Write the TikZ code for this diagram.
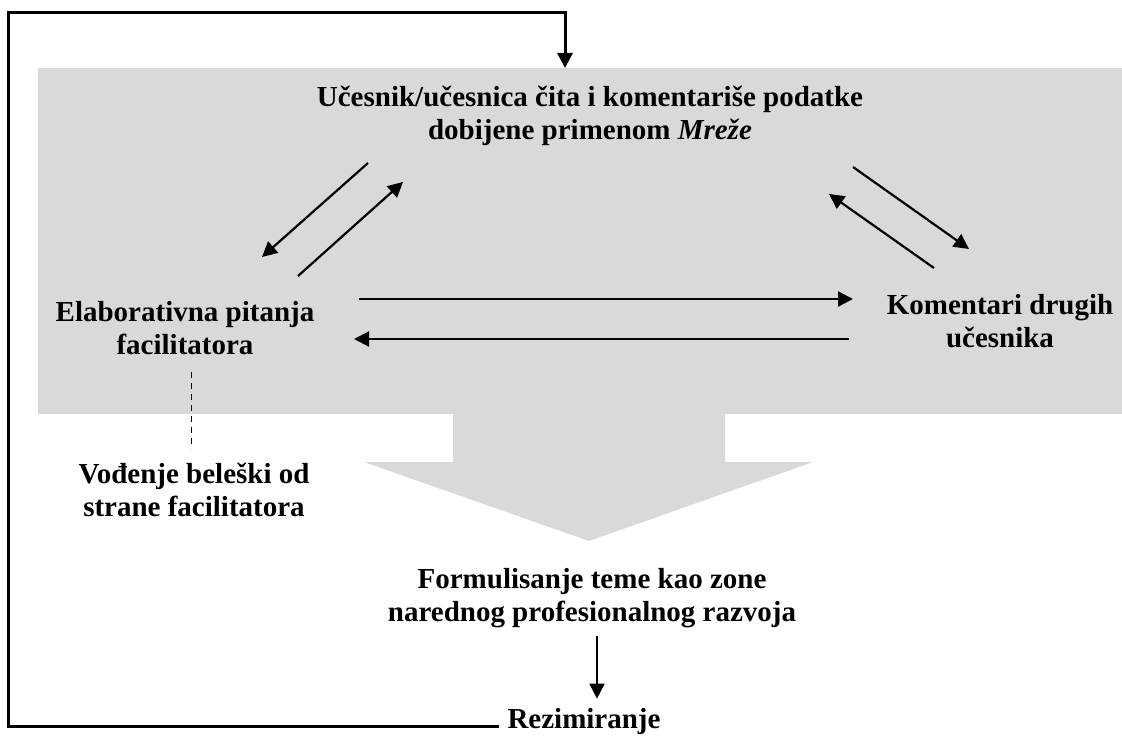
\documentclass[tikz,border=0pt]{standalone}
\usepackage{fontspec}
\setmainfont{Liberation Serif}
\usepackage{tikz}
\usetikzlibrary{arrows.meta,calc}
\definecolor{panelgray}{HTML}{D9D9D9}

\tikzset{
  lbl/.style={font=\fontsize{29}{33}\selectfont\bfseries,align=center,inner sep=0pt},
  arr/.style={->,line width=2.2pt},
}

\begin{document}
\begin{tikzpicture}[x=1pt,y=-1pt,>={Triangle[length=15pt,width=15pt]}]
  \useasboundingbox (0,0) rectangle (1122,738);
  % grey panel with the block arrow below it
  \fill[panelgray] (38,68) rectangle (1122,414);
  \fill[panelgray] (453,412) -- (453,462) -- (364,462) -- (589,541) -- (813,462) -- (725,462) -- (725,412) -- cycle;
  \coordinate (paneltop) at (565,68);

  \node[lbl] (ucesnik) at (590,116) {Učesnik/učesnica čita i komentariše podatke\\dobijene primenom \textit{Mreže}};
  \node[lbl] (elab) at (185,328) {Elaborativna pitanja\\facilitatora};
  \node[lbl] (koment) at (1000,321) {Komentari drugih\\učesnika};
  \node[lbl] (vodjenje) at (194,490) {Vođenje beleški od\\strane facilitatora};
  \node[lbl] (formul) at (592,598) {Formulisanje teme kao zone\\narednog profesionalnog razvoja};
  \node[lbl] (rezim) at (584,722) {Rezimiranje};

  % arrows between the three boxes
  \draw[arr] (368,163) -- (262,257);
  \draw[arr] (298,276) -- (403,182);
  \draw[arr] (853,167) -- (969,249);
  \draw[arr] (934,268) -- (829,194);
  \draw[arr] (359,299) -- (853,299);
  \draw[arr] (849,339) -- (354,339);

  \draw[dash pattern=on 6pt off 5pt,line width=1pt] (191,372) -- (191,449);
  \draw[arr,line width=1.8pt] ([yshift=-8pt]formul.south -| 597,0) -- ([yshift=10pt]597,0 |- rezim.north);

  % feedback loop
  \draw[line width=3pt,->] (rezim.west) ++(-8,4) -- (8,726) -- (8,13) -- (565,13) -- (paneltop);
\end{tikzpicture}
\end{document}
